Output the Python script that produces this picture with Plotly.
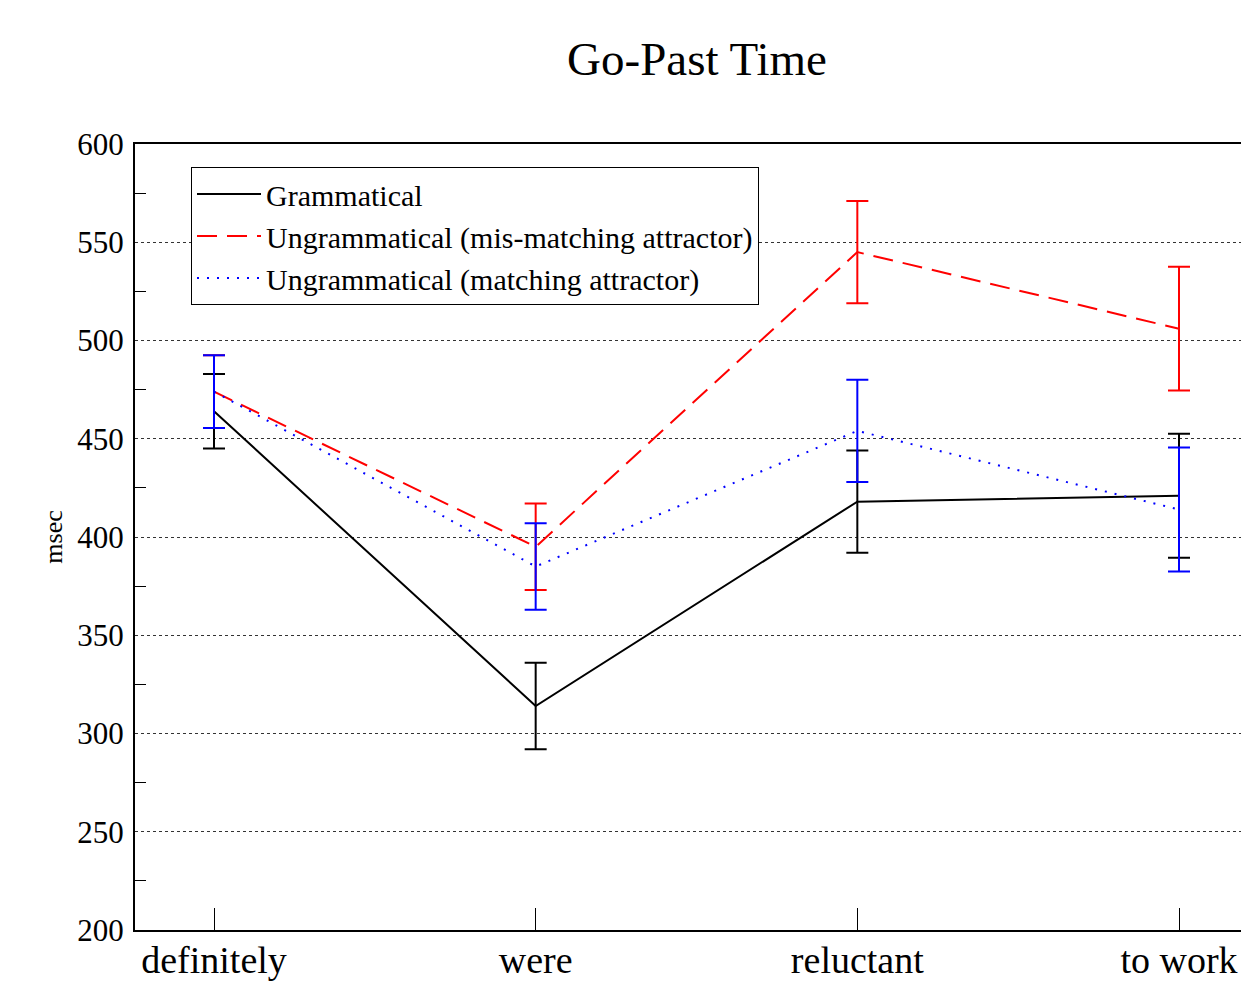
import plotly.graph_objects as go

categories = ["definitely", "were", "reluctant", "to work"]
x_pos = [0, 1, 2, 3]

gram_mean = [464, 314, 418, 421]
gram_err = [19, 22, 26, 31.5]

mis_mean = [474, 395, 545, 506]
mis_err = [18.5, 22, 26, 31.5]

match_mean = [474, 385, 454, 414]
match_err = [18.5, 22, 26, 31.5]

y_ticks = [200, 250, 300, 350, 400, 450, 500, 550, 600]
y_minor = [225, 275, 325, 375, 425, 475, 525, 575]

FONT = "Liberation Serif, Times New Roman, serif"

fig = go.Figure()

fig.add_trace(go.Scatter(
    x=x_pos, y=gram_mean, mode="lines", name="Grammatical",
    line=dict(color="black", width=2),
    error_y=dict(type="data", array=gram_err, color="black", thickness=2, width=11),
))
fig.add_trace(go.Scatter(
    x=x_pos, y=mis_mean, mode="lines", name="Ungrammatical (mis-matching attractor)",
    line=dict(color="#ff0000", width=2, dash="20px,10px"),
    error_y=dict(type="data", array=mis_err, color="#ff0000", thickness=2, width=11),
))
fig.add_trace(go.Scatter(
    x=x_pos, y=match_mean, mode="lines", name="Ungrammatical (matching attractor)",
    line=dict(color="#0000ff", width=2, dash="2px,8px"),
    error_y=dict(type="data", array=match_err, color="#0000ff", thickness=2, width=11),
))

fig.update_layout(
    width=1241, height=981,
    margin=dict(l=135, r=0, t=144, b=49),
    paper_bgcolor="white", plot_bgcolor="white",
    font=dict(family=FONT, color="black"),
    title=dict(text="Go-Past Time", font=dict(size=47, family=FONT, color="black"),
               x=697 / 1241, xanchor="center", y=1 - 59 / 981, yanchor="middle"),
    showlegend=True,
    legend=dict(
        x=56 / 1106, y=(932 - 167) / 788, xanchor="left", yanchor="top",
        bordercolor="black", borderwidth=1, bgcolor="white",
        font=dict(size=30, family=FONT, color="black"),
        tracegroupgap=0, itemwidth=64,
    ),
    xaxis=dict(
        range=[-79 / 321.67, 3 + 62 / 321.67],
        tickmode="array", tickvals=x_pos, ticktext=categories,
        ticks="inside", ticklen=22, tickwidth=1, tickcolor="black",
        showline=True, linecolor="black", linewidth=2, mirror=True,
        showgrid=False, zeroline=False, ticklabelstandoff=-5,
        tickfont=dict(size=38, family=FONT, color="black"),
    ),
    yaxis=dict(
        range=[200, 600],
        tickmode="array", tickvals=y_ticks,
        ticks="", ticklabelstandoff=3,
        showline=True, linecolor="black", linewidth=2, mirror=False,
        showgrid=True, gridcolor="#333", gridwidth=1, griddash="dot",
        zeroline=False,
        tickfont=dict(size=31, family=FONT, color="black"),
        minor=dict(tickmode="array", tickvals=y_minor,
                   ticks="inside", ticklen=11, tickwidth=1, tickcolor="black", showgrid=False),
        title=dict(text="msec", font=dict(size=26, family=FONT, color="black"), standoff=7),
    ),
)

fig.write_html("out.html", config={"displayModeBar": False},
               post_script="document.body.style.margin='0';")
